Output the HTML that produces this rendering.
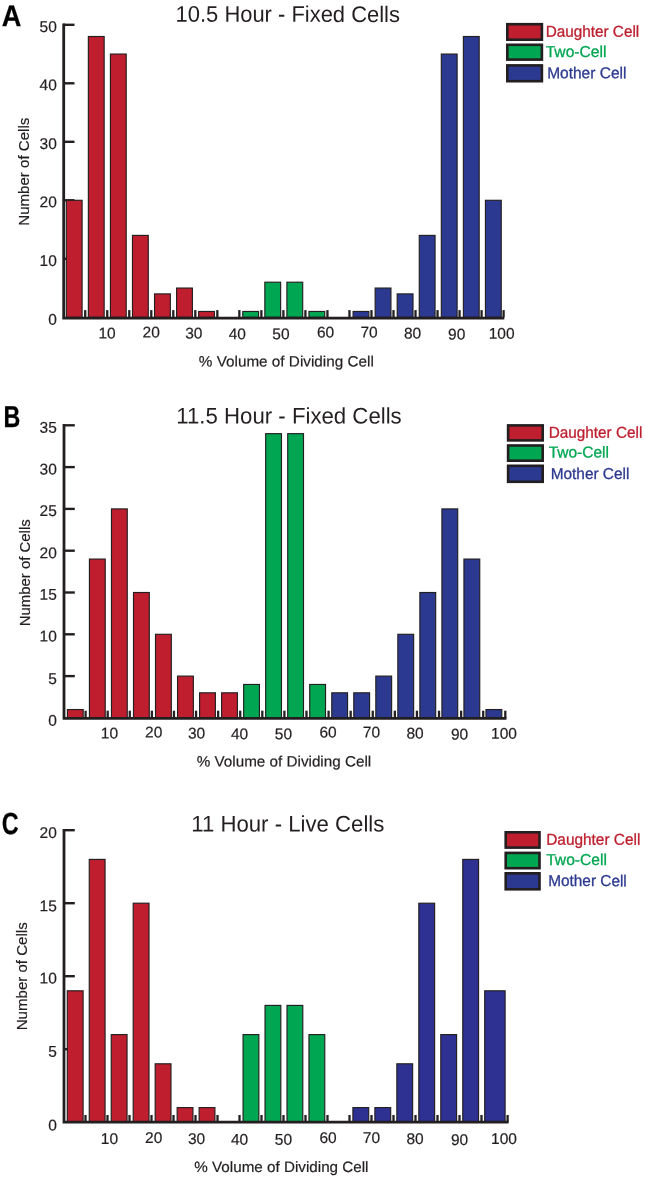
<!DOCTYPE html>
<html><head><meta charset="utf-8"><title>Figure</title>
<style>
html,body{margin:0;padding:0;background:#fff}
svg{display:block}
text{font-family:"Liberation Sans",sans-serif}
</style></head>
<body>
<svg width="645" height="1182" viewBox="0 0 645 1182">
<rect width="645" height="1182" fill="#fff"/>
<g id="chartA">
<line x1="63.2" y1="258.80" x2="74.50" y2="258.80" stroke="#231f20" stroke-width="2.4"/>
<line x1="63.2" y1="200.30" x2="74.50" y2="200.30" stroke="#231f20" stroke-width="2.4"/>
<line x1="63.2" y1="141.80" x2="74.50" y2="141.80" stroke="#231f20" stroke-width="2.4"/>
<line x1="63.2" y1="83.30" x2="74.50" y2="83.30" stroke="#231f20" stroke-width="2.4"/>
<line x1="63.2" y1="24.80" x2="74.50" y2="24.80" stroke="#231f20" stroke-width="2.4"/>
<line x1="85.22" y1="317.3" x2="85.22" y2="310.10" stroke="#231f20" stroke-width="2.3"/>
<line x1="107.24" y1="317.3" x2="107.24" y2="310.10" stroke="#231f20" stroke-width="2.3"/>
<line x1="129.26" y1="317.3" x2="129.26" y2="310.10" stroke="#231f20" stroke-width="2.3"/>
<line x1="151.28" y1="317.3" x2="151.28" y2="310.10" stroke="#231f20" stroke-width="2.3"/>
<line x1="173.30" y1="317.3" x2="173.30" y2="310.10" stroke="#231f20" stroke-width="2.3"/>
<line x1="195.32" y1="317.3" x2="195.32" y2="310.10" stroke="#231f20" stroke-width="2.3"/>
<line x1="217.34" y1="317.3" x2="217.34" y2="310.10" stroke="#231f20" stroke-width="2.3"/>
<line x1="239.36" y1="317.3" x2="239.36" y2="310.10" stroke="#231f20" stroke-width="2.3"/>
<line x1="261.38" y1="317.3" x2="261.38" y2="310.10" stroke="#231f20" stroke-width="2.3"/>
<line x1="283.40" y1="317.3" x2="283.40" y2="310.10" stroke="#231f20" stroke-width="2.3"/>
<line x1="305.42" y1="317.3" x2="305.42" y2="310.10" stroke="#231f20" stroke-width="2.3"/>
<line x1="327.44" y1="317.3" x2="327.44" y2="310.10" stroke="#231f20" stroke-width="2.3"/>
<line x1="349.46" y1="317.3" x2="349.46" y2="310.10" stroke="#231f20" stroke-width="2.3"/>
<line x1="371.48" y1="317.3" x2="371.48" y2="310.10" stroke="#231f20" stroke-width="2.3"/>
<line x1="393.50" y1="317.3" x2="393.50" y2="310.10" stroke="#231f20" stroke-width="2.3"/>
<line x1="415.52" y1="317.3" x2="415.52" y2="310.10" stroke="#231f20" stroke-width="2.3"/>
<line x1="437.54" y1="317.3" x2="437.54" y2="310.10" stroke="#231f20" stroke-width="2.3"/>
<line x1="459.56" y1="317.3" x2="459.56" y2="310.10" stroke="#231f20" stroke-width="2.3"/>
<line x1="481.58" y1="317.3" x2="481.58" y2="310.10" stroke="#231f20" stroke-width="2.3"/>
<line x1="503.60" y1="317.3" x2="503.60" y2="310.10" stroke="#231f20" stroke-width="2.3"/>
<rect x="66.30" y="200.30" width="15.80" height="117.00" fill="#be1e2d" stroke="#231f20" stroke-width="1.15"/>
<rect x="88.36" y="36.50" width="15.80" height="280.80" fill="#be1e2d" stroke="#231f20" stroke-width="1.15"/>
<rect x="110.42" y="54.05" width="15.80" height="263.25" fill="#be1e2d" stroke="#231f20" stroke-width="1.15"/>
<rect x="132.48" y="235.40" width="15.80" height="81.90" fill="#be1e2d" stroke="#231f20" stroke-width="1.15"/>
<rect x="154.54" y="293.90" width="15.80" height="23.40" fill="#be1e2d" stroke="#231f20" stroke-width="1.15"/>
<rect x="176.60" y="288.05" width="15.80" height="29.25" fill="#be1e2d" stroke="#231f20" stroke-width="1.15"/>
<rect x="198.66" y="311.45" width="15.80" height="5.85" fill="#be1e2d" stroke="#231f20" stroke-width="1.15"/>
<rect x="242.78" y="311.45" width="15.80" height="5.85" fill="#00a651" stroke="#231f20" stroke-width="1.15"/>
<rect x="264.84" y="282.20" width="15.80" height="35.10" fill="#00a651" stroke="#231f20" stroke-width="1.15"/>
<rect x="286.90" y="282.20" width="15.80" height="35.10" fill="#00a651" stroke="#231f20" stroke-width="1.15"/>
<rect x="308.96" y="311.45" width="15.80" height="5.85" fill="#00a651" stroke="#231f20" stroke-width="1.15"/>
<rect x="353.08" y="311.45" width="15.80" height="5.85" fill="#2b3990" stroke="#231f20" stroke-width="1.15"/>
<rect x="375.14" y="288.05" width="15.80" height="29.25" fill="#2b3990" stroke="#231f20" stroke-width="1.15"/>
<rect x="397.20" y="293.90" width="15.80" height="23.40" fill="#2b3990" stroke="#231f20" stroke-width="1.15"/>
<rect x="419.26" y="235.40" width="15.80" height="81.90" fill="#2b3990" stroke="#231f20" stroke-width="1.15"/>
<rect x="441.32" y="54.05" width="15.80" height="263.25" fill="#2b3990" stroke="#231f20" stroke-width="1.15"/>
<rect x="463.38" y="36.50" width="15.80" height="280.80" fill="#2b3990" stroke="#231f20" stroke-width="1.15"/>
<rect x="485.44" y="200.30" width="15.80" height="117.00" fill="#2b3990" stroke="#231f20" stroke-width="1.15"/>
<path d="M63.70 23.60V318.20H504.3" fill="none" stroke="#231f20" stroke-width="2.8" stroke-linejoin="miter"/>
<text x="1.8" y="25.7" transform="rotate(0.03 1.8 25.7)" font-size="29.8" fill="#000" textLength="19.6" lengthAdjust="spacingAndGlyphs" font-weight="bold" stroke="#000" stroke-width="0.25">A</text>
<text x="175.6" y="21.8" transform="rotate(0.03 175.6 21.8)" font-size="22.6" fill="#231f20" textLength="224.3" lengthAdjust="spacingAndGlyphs">10.5 Hour - Fixed Cells</text>
<text x="56.8" y="31.9" transform="rotate(0.03 56.8 31.9)" font-size="15.5" fill="#231f20" text-anchor="end" stroke="#231f20" stroke-width="0.2">50</text>
<text x="56.8" y="90.2" transform="rotate(0.03 56.8 90.2)" font-size="15.5" fill="#231f20" text-anchor="end" stroke="#231f20" stroke-width="0.2">40</text>
<text x="56.8" y="149.0" transform="rotate(0.03 56.8 149.0)" font-size="15.5" fill="#231f20" text-anchor="end" stroke="#231f20" stroke-width="0.2">30</text>
<text x="56.8" y="207.2" transform="rotate(0.03 56.8 207.2)" font-size="15.5" fill="#231f20" text-anchor="end" stroke="#231f20" stroke-width="0.2">20</text>
<text x="56.8" y="265.9" transform="rotate(0.03 56.8 265.9)" font-size="15.5" fill="#231f20" text-anchor="end" stroke="#231f20" stroke-width="0.2">10</text>
<text x="56.8" y="324.8" transform="rotate(0.03 56.8 324.8)" font-size="15.5" fill="#231f20" text-anchor="end" stroke="#231f20" stroke-width="0.2">0</text>
<text x="107" y="338.6" transform="rotate(0.03 107 338.6)" font-size="15.5" fill="#231f20" text-anchor="middle" stroke="#231f20" stroke-width="0.2">10</text>
<text x="151.2" y="337.5" transform="rotate(0.03 151.2 337.5)" font-size="15.5" fill="#231f20" text-anchor="middle" stroke="#231f20" stroke-width="0.2">20</text>
<text x="193.8" y="338.6" transform="rotate(0.03 193.8 338.6)" font-size="15.5" fill="#231f20" text-anchor="middle" stroke="#231f20" stroke-width="0.2">30</text>
<text x="237.3" y="339.2" transform="rotate(0.03 237.3 339.2)" font-size="15.5" fill="#231f20" text-anchor="middle" stroke="#231f20" stroke-width="0.2">40</text>
<text x="280.9" y="339.2" transform="rotate(0.03 280.9 339.2)" font-size="15.5" fill="#231f20" text-anchor="middle" stroke="#231f20" stroke-width="0.2">50</text>
<text x="325.5" y="337.5" transform="rotate(0.03 325.5 337.5)" font-size="15.5" fill="#231f20" text-anchor="middle" stroke="#231f20" stroke-width="0.2">60</text>
<text x="369" y="337.5" transform="rotate(0.03 369 337.5)" font-size="15.5" fill="#231f20" text-anchor="middle" stroke="#231f20" stroke-width="0.2">70</text>
<text x="412.5" y="338.6" transform="rotate(0.03 412.5 338.6)" font-size="15.5" fill="#231f20" text-anchor="middle" stroke="#231f20" stroke-width="0.2">80</text>
<text x="456.7" y="339.5" transform="rotate(0.03 456.7 339.5)" font-size="15.5" fill="#231f20" text-anchor="middle" stroke="#231f20" stroke-width="0.2">90</text>
<text x="501.6" y="338.7" transform="rotate(0.03 501.6 338.7)" font-size="15.5" fill="#231f20" text-anchor="middle" stroke="#231f20" stroke-width="0.2">100</text>
<text x="198.8" y="366.5" transform="rotate(0.03 198.8 366.5)" font-size="15" fill="#231f20" textLength="175.0" lengthAdjust="spacingAndGlyphs" stroke="#231f20" stroke-width="0.2">% Volume of Dividing Cell</text>
<text transform="translate(29.2 225.7) rotate(-90)" font-size="15" fill="#231f20" stroke="#231f20" stroke-width="0.2" textLength="108" lengthAdjust="spacingAndGlyphs">Number of Cells</text>
<rect x="507.30" y="24.20" width="34.60" height="15.50" fill="#be1e2d" stroke="#231f20" stroke-width="2.6"/>
<rect x="507.30" y="44.80" width="34.60" height="14.80" fill="#00a651" stroke="#231f20" stroke-width="2.6"/>
<rect x="507.30" y="65.40" width="34.60" height="15.80" fill="#2b3990" stroke="#231f20" stroke-width="2.6"/>
<text x="545.7" y="36.8" transform="rotate(0.03 545.7 36.8)" font-size="15.8" fill="#be1e2d" textLength="93.5" lengthAdjust="spacingAndGlyphs" stroke="#be1e2d" stroke-width="0.3">Daughter Cell</text>
<text x="545.7" y="57.1" transform="rotate(0.03 545.7 57.1)" font-size="15.8" fill="#00a651" textLength="60.7" lengthAdjust="spacingAndGlyphs" stroke="#00a651" stroke-width="0.3">Two-Cell</text>
<text x="547.2" y="78.2" transform="rotate(0.03 547.2 78.2)" font-size="15.8" fill="#2b3990" textLength="79.2" lengthAdjust="spacingAndGlyphs" stroke="#2b3990" stroke-width="0.3">Mother Cell</text>
</g>
<g id="chartB">
<line x1="63.5" y1="676.10" x2="74.80" y2="676.10" stroke="#231f20" stroke-width="2.4"/>
<line x1="63.5" y1="634.30" x2="74.80" y2="634.30" stroke="#231f20" stroke-width="2.4"/>
<line x1="63.5" y1="592.50" x2="74.80" y2="592.50" stroke="#231f20" stroke-width="2.4"/>
<line x1="63.5" y1="550.70" x2="74.80" y2="550.70" stroke="#231f20" stroke-width="2.4"/>
<line x1="63.5" y1="508.90" x2="74.80" y2="508.90" stroke="#231f20" stroke-width="2.4"/>
<line x1="63.5" y1="467.10" x2="74.80" y2="467.10" stroke="#231f20" stroke-width="2.4"/>
<line x1="63.5" y1="425.30" x2="74.80" y2="425.30" stroke="#231f20" stroke-width="2.4"/>
<line x1="85.59" y1="717.9" x2="85.59" y2="710.70" stroke="#231f20" stroke-width="2.3"/>
<line x1="107.68" y1="717.9" x2="107.68" y2="710.70" stroke="#231f20" stroke-width="2.3"/>
<line x1="129.77" y1="717.9" x2="129.77" y2="710.70" stroke="#231f20" stroke-width="2.3"/>
<line x1="151.86" y1="717.9" x2="151.86" y2="710.70" stroke="#231f20" stroke-width="2.3"/>
<line x1="173.95" y1="717.9" x2="173.95" y2="710.70" stroke="#231f20" stroke-width="2.3"/>
<line x1="196.04" y1="717.9" x2="196.04" y2="710.70" stroke="#231f20" stroke-width="2.3"/>
<line x1="218.13" y1="717.9" x2="218.13" y2="710.70" stroke="#231f20" stroke-width="2.3"/>
<line x1="240.22" y1="717.9" x2="240.22" y2="710.70" stroke="#231f20" stroke-width="2.3"/>
<line x1="262.31" y1="717.9" x2="262.31" y2="710.70" stroke="#231f20" stroke-width="2.3"/>
<line x1="284.40" y1="717.9" x2="284.40" y2="710.70" stroke="#231f20" stroke-width="2.3"/>
<line x1="306.49" y1="717.9" x2="306.49" y2="710.70" stroke="#231f20" stroke-width="2.3"/>
<line x1="328.58" y1="717.9" x2="328.58" y2="710.70" stroke="#231f20" stroke-width="2.3"/>
<line x1="350.67" y1="717.9" x2="350.67" y2="710.70" stroke="#231f20" stroke-width="2.3"/>
<line x1="372.76" y1="717.9" x2="372.76" y2="710.70" stroke="#231f20" stroke-width="2.3"/>
<line x1="394.85" y1="717.9" x2="394.85" y2="710.70" stroke="#231f20" stroke-width="2.3"/>
<line x1="416.94" y1="717.9" x2="416.94" y2="710.70" stroke="#231f20" stroke-width="2.3"/>
<line x1="439.03" y1="717.9" x2="439.03" y2="710.70" stroke="#231f20" stroke-width="2.3"/>
<line x1="461.12" y1="717.9" x2="461.12" y2="710.70" stroke="#231f20" stroke-width="2.3"/>
<line x1="483.21" y1="717.9" x2="483.21" y2="710.70" stroke="#231f20" stroke-width="2.3"/>
<line x1="505.30" y1="717.9" x2="505.30" y2="710.70" stroke="#231f20" stroke-width="2.3"/>
<rect x="67.40" y="709.54" width="15.80" height="8.36" fill="#be1e2d" stroke="#231f20" stroke-width="1.15"/>
<rect x="89.43" y="559.06" width="15.80" height="158.84" fill="#be1e2d" stroke="#231f20" stroke-width="1.15"/>
<rect x="111.46" y="508.90" width="15.80" height="209.00" fill="#be1e2d" stroke="#231f20" stroke-width="1.15"/>
<rect x="133.49" y="592.50" width="15.80" height="125.40" fill="#be1e2d" stroke="#231f20" stroke-width="1.15"/>
<rect x="155.52" y="634.30" width="15.80" height="83.60" fill="#be1e2d" stroke="#231f20" stroke-width="1.15"/>
<rect x="177.55" y="676.10" width="15.80" height="41.80" fill="#be1e2d" stroke="#231f20" stroke-width="1.15"/>
<rect x="199.58" y="692.82" width="15.80" height="25.08" fill="#be1e2d" stroke="#231f20" stroke-width="1.15"/>
<rect x="221.61" y="692.82" width="15.80" height="25.08" fill="#be1e2d" stroke="#231f20" stroke-width="1.15"/>
<rect x="243.64" y="684.46" width="15.80" height="33.44" fill="#00a651" stroke="#231f20" stroke-width="1.15"/>
<rect x="265.67" y="433.66" width="15.80" height="284.24" fill="#00a651" stroke="#231f20" stroke-width="1.15"/>
<rect x="287.70" y="433.66" width="15.80" height="284.24" fill="#00a651" stroke="#231f20" stroke-width="1.15"/>
<rect x="309.73" y="684.46" width="15.80" height="33.44" fill="#00a651" stroke="#231f20" stroke-width="1.15"/>
<rect x="331.76" y="692.82" width="15.80" height="25.08" fill="#2b3990" stroke="#231f20" stroke-width="1.15"/>
<rect x="353.79" y="692.82" width="15.80" height="25.08" fill="#2b3990" stroke="#231f20" stroke-width="1.15"/>
<rect x="375.82" y="676.10" width="15.80" height="41.80" fill="#2b3990" stroke="#231f20" stroke-width="1.15"/>
<rect x="397.85" y="634.30" width="15.80" height="83.60" fill="#2b3990" stroke="#231f20" stroke-width="1.15"/>
<rect x="419.88" y="592.50" width="15.80" height="125.40" fill="#2b3990" stroke="#231f20" stroke-width="1.15"/>
<rect x="441.91" y="508.90" width="15.80" height="209.00" fill="#2b3990" stroke="#231f20" stroke-width="1.15"/>
<rect x="463.94" y="559.06" width="15.80" height="158.84" fill="#2b3990" stroke="#231f20" stroke-width="1.15"/>
<rect x="485.97" y="709.54" width="15.80" height="8.36" fill="#2b3990" stroke="#231f20" stroke-width="1.15"/>
<path d="M64.00 424.10V718.30H506.5" fill="none" stroke="#231f20" stroke-width="2.8" stroke-linejoin="miter"/>
<text x="3.4" y="426.8" transform="rotate(0.03 3.4 426.8)" font-size="30.3" fill="#000" textLength="16.8" lengthAdjust="spacingAndGlyphs" font-weight="bold" stroke="#000" stroke-width="0.25">B</text>
<text x="176.3" y="423.5" transform="rotate(0.03 176.3 423.5)" font-size="22.6" fill="#231f20" textLength="225.4" lengthAdjust="spacingAndGlyphs">11.5 Hour - Fixed Cells</text>
<text x="56.8" y="432.7" transform="rotate(0.03 56.8 432.7)" font-size="15.5" fill="#231f20" text-anchor="end" stroke="#231f20" stroke-width="0.2">35</text>
<text x="56.8" y="474.6" transform="rotate(0.03 56.8 474.6)" font-size="15.5" fill="#231f20" text-anchor="end" stroke="#231f20" stroke-width="0.2">30</text>
<text x="56.8" y="516" transform="rotate(0.03 56.8 516)" font-size="15.5" fill="#231f20" text-anchor="end" stroke="#231f20" stroke-width="0.2">25</text>
<text x="56.8" y="558.2" transform="rotate(0.03 56.8 558.2)" font-size="15.5" fill="#231f20" text-anchor="end" stroke="#231f20" stroke-width="0.2">20</text>
<text x="56.8" y="599.8" transform="rotate(0.03 56.8 599.8)" font-size="15.5" fill="#231f20" text-anchor="end" stroke="#231f20" stroke-width="0.2">15</text>
<text x="56.8" y="641.6" transform="rotate(0.03 56.8 641.6)" font-size="15.5" fill="#231f20" text-anchor="end" stroke="#231f20" stroke-width="0.2">10</text>
<text x="56.8" y="684" transform="rotate(0.03 56.8 684)" font-size="15.5" fill="#231f20" text-anchor="end" stroke="#231f20" stroke-width="0.2">5</text>
<text x="56.8" y="725.8" transform="rotate(0.03 56.8 725.8)" font-size="15.5" fill="#231f20" text-anchor="end" stroke="#231f20" stroke-width="0.2">0</text>
<text x="109.4" y="738.6" transform="rotate(0.03 109.4 738.6)" font-size="15.5" fill="#231f20" text-anchor="middle" stroke="#231f20" stroke-width="0.2">10</text>
<text x="153.7" y="737.5" transform="rotate(0.03 153.7 737.5)" font-size="15.5" fill="#231f20" text-anchor="middle" stroke="#231f20" stroke-width="0.2">20</text>
<text x="196.5" y="738.6" transform="rotate(0.03 196.5 738.6)" font-size="15.5" fill="#231f20" text-anchor="middle" stroke="#231f20" stroke-width="0.2">30</text>
<text x="239.6" y="739.2" transform="rotate(0.03 239.6 739.2)" font-size="15.5" fill="#231f20" text-anchor="middle" stroke="#231f20" stroke-width="0.2">40</text>
<text x="283.4" y="739.2" transform="rotate(0.03 283.4 739.2)" font-size="15.5" fill="#231f20" text-anchor="middle" stroke="#231f20" stroke-width="0.2">50</text>
<text x="328" y="737.5" transform="rotate(0.03 328 737.5)" font-size="15.5" fill="#231f20" text-anchor="middle" stroke="#231f20" stroke-width="0.2">60</text>
<text x="371.4" y="737.5" transform="rotate(0.03 371.4 737.5)" font-size="15.5" fill="#231f20" text-anchor="middle" stroke="#231f20" stroke-width="0.2">70</text>
<text x="415.1" y="738.6" transform="rotate(0.03 415.1 738.6)" font-size="15.5" fill="#231f20" text-anchor="middle" stroke="#231f20" stroke-width="0.2">80</text>
<text x="459.5" y="739.5" transform="rotate(0.03 459.5 739.5)" font-size="15.5" fill="#231f20" text-anchor="middle" stroke="#231f20" stroke-width="0.2">90</text>
<text x="504" y="738.7" transform="rotate(0.03 504 738.7)" font-size="15.5" fill="#231f20" text-anchor="middle" stroke="#231f20" stroke-width="0.2">100</text>
<text x="196.7" y="766.5" transform="rotate(0.03 196.7 766.5)" font-size="15" fill="#231f20" textLength="174.5" lengthAdjust="spacingAndGlyphs" stroke="#231f20" stroke-width="0.2">% Volume of Dividing Cell</text>
<text transform="translate(29.8 626.3) rotate(-90)" font-size="15" fill="#231f20" stroke="#231f20" stroke-width="0.2" textLength="107" lengthAdjust="spacingAndGlyphs">Number of Cells</text>
<rect x="508.10" y="425.40" width="34.60" height="15.00" fill="#be1e2d" stroke="#231f20" stroke-width="2.6"/>
<rect x="508.10" y="445.50" width="34.60" height="15.20" fill="#00a651" stroke="#231f20" stroke-width="2.6"/>
<rect x="508.10" y="465.80" width="34.60" height="16.00" fill="#2b3990" stroke="#231f20" stroke-width="2.6"/>
<text x="548.7" y="437.7" transform="rotate(0.03 548.7 437.7)" font-size="15.8" fill="#be1e2d" textLength="93.7" lengthAdjust="spacingAndGlyphs" stroke="#be1e2d" stroke-width="0.3">Daughter Cell</text>
<text x="548.7" y="457.6" transform="rotate(0.03 548.7 457.6)" font-size="15.8" fill="#00a651" textLength="60.3" lengthAdjust="spacingAndGlyphs" stroke="#00a651" stroke-width="0.3">Two-Cell</text>
<text x="550.7" y="478.9" transform="rotate(0.03 550.7 478.9)" font-size="15.8" fill="#2b3990" textLength="78.7" lengthAdjust="spacingAndGlyphs" stroke="#2b3990" stroke-width="0.3">Mother Cell</text>
</g>
<g id="chartC">
<line x1="63.5" y1="1049.20" x2="74.80" y2="1049.20" stroke="#231f20" stroke-width="2.4"/>
<line x1="63.5" y1="976.20" x2="74.80" y2="976.20" stroke="#231f20" stroke-width="2.4"/>
<line x1="63.5" y1="903.20" x2="74.80" y2="903.20" stroke="#231f20" stroke-width="2.4"/>
<line x1="63.5" y1="830.20" x2="74.80" y2="830.20" stroke="#231f20" stroke-width="2.4"/>
<line x1="85.50" y1="1122.2" x2="85.50" y2="1115.00" stroke="#231f20" stroke-width="2.3"/>
<line x1="107.50" y1="1122.2" x2="107.50" y2="1115.00" stroke="#231f20" stroke-width="2.3"/>
<line x1="129.50" y1="1122.2" x2="129.50" y2="1115.00" stroke="#231f20" stroke-width="2.3"/>
<line x1="151.50" y1="1122.2" x2="151.50" y2="1115.00" stroke="#231f20" stroke-width="2.3"/>
<line x1="173.50" y1="1122.2" x2="173.50" y2="1115.00" stroke="#231f20" stroke-width="2.3"/>
<line x1="195.50" y1="1122.2" x2="195.50" y2="1115.00" stroke="#231f20" stroke-width="2.3"/>
<line x1="217.50" y1="1122.2" x2="217.50" y2="1115.00" stroke="#231f20" stroke-width="2.3"/>
<line x1="239.50" y1="1122.2" x2="239.50" y2="1115.00" stroke="#231f20" stroke-width="2.3"/>
<line x1="261.50" y1="1122.2" x2="261.50" y2="1115.00" stroke="#231f20" stroke-width="2.3"/>
<line x1="283.50" y1="1122.2" x2="283.50" y2="1115.00" stroke="#231f20" stroke-width="2.3"/>
<line x1="305.50" y1="1122.2" x2="305.50" y2="1115.00" stroke="#231f20" stroke-width="2.3"/>
<line x1="327.50" y1="1122.2" x2="327.50" y2="1115.00" stroke="#231f20" stroke-width="2.3"/>
<line x1="349.50" y1="1122.2" x2="349.50" y2="1115.00" stroke="#231f20" stroke-width="2.3"/>
<line x1="371.50" y1="1122.2" x2="371.50" y2="1115.00" stroke="#231f20" stroke-width="2.3"/>
<line x1="393.50" y1="1122.2" x2="393.50" y2="1115.00" stroke="#231f20" stroke-width="2.3"/>
<line x1="415.50" y1="1122.2" x2="415.50" y2="1115.00" stroke="#231f20" stroke-width="2.3"/>
<line x1="437.50" y1="1122.2" x2="437.50" y2="1115.00" stroke="#231f20" stroke-width="2.3"/>
<line x1="459.50" y1="1122.2" x2="459.50" y2="1115.00" stroke="#231f20" stroke-width="2.3"/>
<line x1="481.50" y1="1122.2" x2="481.50" y2="1115.00" stroke="#231f20" stroke-width="2.3"/>
<line x1="507.60" y1="1122.2" x2="507.60" y2="1115.00" stroke="#231f20" stroke-width="2.3"/>
<rect x="67.30" y="990.80" width="15.80" height="131.40" fill="#be1e2d" stroke="#231f20" stroke-width="1.15"/>
<rect x="89.27" y="859.40" width="15.80" height="262.80" fill="#be1e2d" stroke="#231f20" stroke-width="1.15"/>
<rect x="111.24" y="1034.60" width="15.80" height="87.60" fill="#be1e2d" stroke="#231f20" stroke-width="1.15"/>
<rect x="133.21" y="903.20" width="15.80" height="219.00" fill="#be1e2d" stroke="#231f20" stroke-width="1.15"/>
<rect x="155.18" y="1063.80" width="15.80" height="58.40" fill="#be1e2d" stroke="#231f20" stroke-width="1.15"/>
<rect x="177.15" y="1107.60" width="15.80" height="14.60" fill="#be1e2d" stroke="#231f20" stroke-width="1.15"/>
<rect x="199.12" y="1107.60" width="15.80" height="14.60" fill="#be1e2d" stroke="#231f20" stroke-width="1.15"/>
<rect x="243.06" y="1034.60" width="15.80" height="87.60" fill="#00a651" stroke="#231f20" stroke-width="1.15"/>
<rect x="265.03" y="1005.40" width="15.80" height="116.80" fill="#00a651" stroke="#231f20" stroke-width="1.15"/>
<rect x="287.00" y="1005.40" width="15.80" height="116.80" fill="#00a651" stroke="#231f20" stroke-width="1.15"/>
<rect x="308.97" y="1034.60" width="15.80" height="87.60" fill="#00a651" stroke="#231f20" stroke-width="1.15"/>
<rect x="352.91" y="1107.60" width="15.80" height="14.60" fill="#2e3192" stroke="#231f20" stroke-width="1.15"/>
<rect x="374.88" y="1107.60" width="15.80" height="14.60" fill="#2e3192" stroke="#231f20" stroke-width="1.15"/>
<rect x="396.85" y="1063.80" width="15.80" height="58.40" fill="#2e3192" stroke="#231f20" stroke-width="1.15"/>
<rect x="418.82" y="903.20" width="15.80" height="219.00" fill="#2e3192" stroke="#231f20" stroke-width="1.15"/>
<rect x="440.79" y="1034.60" width="15.80" height="87.60" fill="#2e3192" stroke="#231f20" stroke-width="1.15"/>
<rect x="462.76" y="859.40" width="15.80" height="262.80" fill="#2e3192" stroke="#231f20" stroke-width="1.15"/>
<rect x="484.70" y="990.80" width="20.40" height="131.40" fill="#2e3192" stroke="#231f20" stroke-width="1.15"/>
<path d="M64.00 829.00V1122.20H508.6" fill="none" stroke="#231f20" stroke-width="2.8" stroke-linejoin="miter"/>
<text x="1.7" y="834.5" transform="rotate(0.03 1.7 834.5)" font-size="30.6" fill="#000" textLength="16.9" lengthAdjust="spacingAndGlyphs" font-weight="bold" stroke="#000" stroke-width="0.25">C</text>
<text x="191.2" y="831.5" transform="rotate(0.03 191.2 831.5)" font-size="22.6" fill="#231f20" textLength="193.2" lengthAdjust="spacingAndGlyphs">11 Hour - Live Cells</text>
<text x="56.8" y="837.9" transform="rotate(0.03 56.8 837.9)" font-size="15.5" fill="#231f20" text-anchor="end" stroke="#231f20" stroke-width="0.2">20</text>
<text x="56.8" y="911.3" transform="rotate(0.03 56.8 911.3)" font-size="15.5" fill="#231f20" text-anchor="end" stroke="#231f20" stroke-width="0.2">15</text>
<text x="56.8" y="983.6" transform="rotate(0.03 56.8 983.6)" font-size="15.5" fill="#231f20" text-anchor="end" stroke="#231f20" stroke-width="0.2">10</text>
<text x="56.8" y="1056.8" transform="rotate(0.03 56.8 1056.8)" font-size="15.5" fill="#231f20" text-anchor="end" stroke="#231f20" stroke-width="0.2">5</text>
<text x="56.8" y="1130.4" transform="rotate(0.03 56.8 1130.4)" font-size="15.5" fill="#231f20" text-anchor="end" stroke="#231f20" stroke-width="0.2">0</text>
<text x="109.4" y="1144" transform="rotate(0.03 109.4 1144)" font-size="15.5" fill="#231f20" text-anchor="middle" stroke="#231f20" stroke-width="0.2">10</text>
<text x="153.7" y="1143" transform="rotate(0.03 153.7 1143)" font-size="15.5" fill="#231f20" text-anchor="middle" stroke="#231f20" stroke-width="0.2">20</text>
<text x="196.5" y="1144" transform="rotate(0.03 196.5 1144)" font-size="15.5" fill="#231f20" text-anchor="middle" stroke="#231f20" stroke-width="0.2">30</text>
<text x="239.6" y="1144.7" transform="rotate(0.03 239.6 1144.7)" font-size="15.5" fill="#231f20" text-anchor="middle" stroke="#231f20" stroke-width="0.2">40</text>
<text x="283.4" y="1144.7" transform="rotate(0.03 283.4 1144.7)" font-size="15.5" fill="#231f20" text-anchor="middle" stroke="#231f20" stroke-width="0.2">50</text>
<text x="328" y="1143" transform="rotate(0.03 328 1143)" font-size="15.5" fill="#231f20" text-anchor="middle" stroke="#231f20" stroke-width="0.2">60</text>
<text x="371.4" y="1143" transform="rotate(0.03 371.4 1143)" font-size="15.5" fill="#231f20" text-anchor="middle" stroke="#231f20" stroke-width="0.2">70</text>
<text x="415.1" y="1144" transform="rotate(0.03 415.1 1144)" font-size="15.5" fill="#231f20" text-anchor="middle" stroke="#231f20" stroke-width="0.2">80</text>
<text x="459.5" y="1145" transform="rotate(0.03 459.5 1145)" font-size="15.5" fill="#231f20" text-anchor="middle" stroke="#231f20" stroke-width="0.2">90</text>
<text x="504" y="1144" transform="rotate(0.03 504 1144)" font-size="15.5" fill="#231f20" text-anchor="middle" stroke="#231f20" stroke-width="0.2">100</text>
<text x="194.3" y="1172" transform="rotate(0.03 194.3 1172)" font-size="15" fill="#231f20" textLength="174.2" lengthAdjust="spacingAndGlyphs" stroke="#231f20" stroke-width="0.2">% Volume of Dividing Cell</text>
<text transform="translate(27.1 1030.3) rotate(-90)" font-size="15" fill="#231f20" stroke="#231f20" stroke-width="0.2" textLength="108" lengthAdjust="spacingAndGlyphs">Number of Cells</text>
<rect x="505.70" y="832.30" width="33.80" height="15.30" fill="#be1e2d" stroke="#231f20" stroke-width="2.6"/>
<rect x="505.70" y="852.90" width="33.80" height="15.30" fill="#00a651" stroke="#231f20" stroke-width="2.6"/>
<rect x="505.70" y="873.30" width="33.80" height="16.00" fill="#2b3990" stroke="#231f20" stroke-width="2.6"/>
<text x="546.2" y="844.7" transform="rotate(0.03 546.2 844.7)" font-size="15.8" fill="#be1e2d" textLength="94.2" lengthAdjust="spacingAndGlyphs" stroke="#be1e2d" stroke-width="0.3">Daughter Cell</text>
<text x="546.2" y="865" transform="rotate(0.03 546.2 865)" font-size="15.8" fill="#00a651" textLength="60.8" lengthAdjust="spacingAndGlyphs" stroke="#00a651" stroke-width="0.3">Two-Cell</text>
<text x="548.2" y="886.1" transform="rotate(0.03 548.2 886.1)" font-size="15.8" fill="#2b3990" textLength="78.6" lengthAdjust="spacingAndGlyphs" stroke="#2b3990" stroke-width="0.3">Mother Cell</text>
</g>
</svg>
</body></html>
